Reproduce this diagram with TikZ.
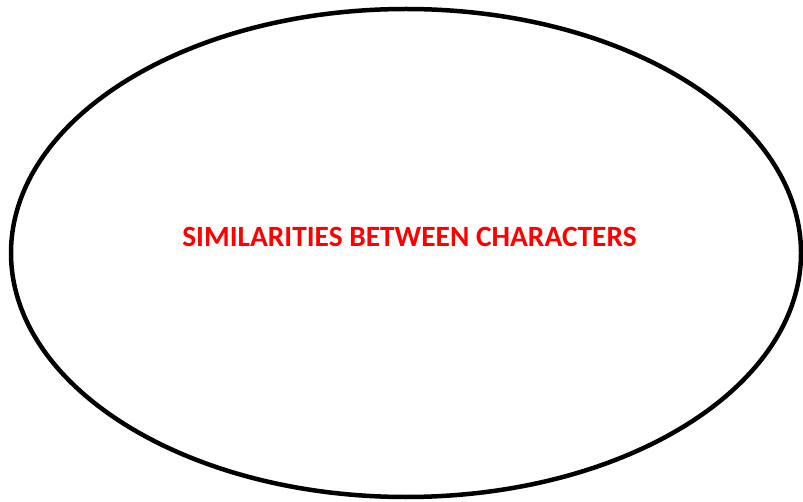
\documentclass[tikz,border=0pt]{standalone}
\usepackage{fontspec}
\setmainfont{Carlito}
\usetikzlibrary{shapes.geometric}

\begin{document}
\begin{tikzpicture}[x=1pt,y=1pt]
	\tikzset{oval style/.style={draw=black,line width=4.5pt,ellipse,minimum width=790pt,minimum height=488pt,inner sep=0pt},
		title style/.style={text=red,font=\fontsize{29.4}{34}\selectfont\bfseries,inner sep=0pt}}
	\useasboundingbox (0,0) rectangle (803,501);
	\node[oval style] (oval) at (406,248) {};
	\node[title style] (title) at (409.5,264) {SIMILARITIES BETWEEN CHARACTERS};
\end{tikzpicture}
\end{document}
